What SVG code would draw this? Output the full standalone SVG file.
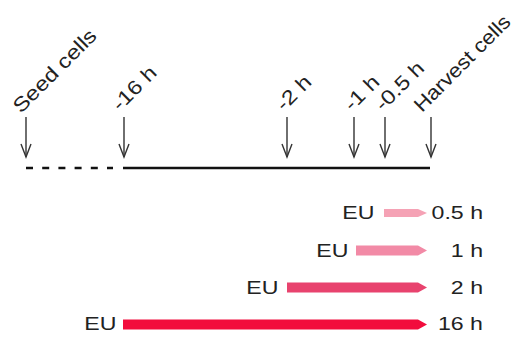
<svg xmlns="http://www.w3.org/2000/svg" width="518" height="337" viewBox="0 0 518 337">
<style>
text{font-family:"Liberation Sans",Arial,sans-serif;font-size:18.5px;fill:#222}
.rot{font-size:20px}
.end{text-anchor:end}
.arr line{stroke:#333;stroke-width:1.4}
.arr polyline{fill:none;stroke:#333;stroke-width:1.4}
</style>
<rect width="518" height="337" fill="#fff"/>
<g id="labels">
<text class="rot" transform="translate(21,114) rotate(-45) scale(1.18,1)">Seed cells</text>
<text class="rot" transform="translate(120,112) rotate(-45) scale(1.18,1)">-16 h</text>
<text class="rot" transform="translate(284,112) rotate(-45) scale(1.18,1)">-2 h</text>
<text class="rot" transform="translate(352,112) rotate(-45) scale(1.18,1)">-1 h</text>
<text class="rot" transform="translate(383,112) rotate(-45) scale(1.18,1)">-0.5 h</text>
<text class="rot" transform="translate(422,113) rotate(-45) scale(1.11,1)">Harvest cells</text>
</g>
<g id="connectors">
<g class="arr">
<line x1="26" y1="117" x2="26" y2="157"/><polyline points="21,144 26,157 31,144"/>
<line x1="124" y1="117" x2="124" y2="157"/><polyline points="119,144 124,157 129,144"/>
<line x1="287" y1="117" x2="287" y2="157"/><polyline points="282,144 287,157 292,144"/>
<line x1="354" y1="117" x2="354" y2="157"/><polyline points="349,144 354,157 359,144"/>
<line x1="385" y1="117" x2="385" y2="157"/><polyline points="380,144 385,157 390,144"/>
<line x1="431" y1="117" x2="431" y2="157"/><polyline points="426,144 431,157 436,144"/>
</g>
</g>
<g id="timeline">
<line x1="26" y1="168" x2="113" y2="168" stroke="#111" stroke-width="2.6" stroke-dasharray="7 9.2"/>
<line x1="123" y1="168" x2="430" y2="168" stroke="#111" stroke-width="2.6"/>
</g>
<g id="bar-05">
<text class="end" transform="translate(374.5,219) scale(1.25,1)">EU</text>
<polygon points="384,209 418,209 427,213 418,217 384,217" fill="#F5A2B5"/>
<text class="end" transform="translate(483,219) scale(1.25,1)">0.5 h</text>
</g>
<g id="bar-1">
<text class="end" transform="translate(348.5,256.5) scale(1.25,1)">EU</text>
<polygon points="356,245.5 418,245.5 427,250.5 418,255.5 356,255.5" fill="#F28AA6"/>
<text class="end" transform="translate(483,256.5) scale(1.25,1)">1 h</text>
</g>
<g id="bar-2">
<text class="end" transform="translate(278.5,294) scale(1.25,1)">EU</text>
<polygon points="287,282.5 418,282.5 427,287.5 418,292.5 287,292.5" fill="#E8436E"/>
<text class="end" transform="translate(483,294) scale(1.25,1)">2 h</text>
</g>
<g id="bar-16">
<text class="end" transform="translate(116.5,330) scale(1.25,1)">EU</text>
<polygon points="123,319.5 418,319.5 427,324.5 418,329.5 123,329.5" fill="#F20C3C"/>
<text class="end" transform="translate(483,330) scale(1.25,1)">16 h</text>
</g>
</svg>
